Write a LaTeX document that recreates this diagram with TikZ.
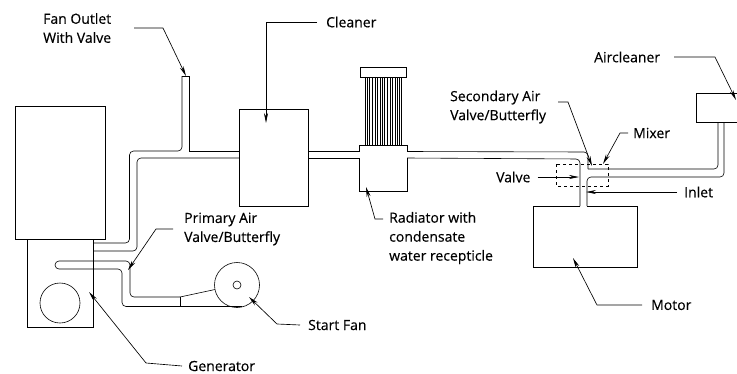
\documentclass[tikz,border=0pt]{standalone}
\usepackage{fontspec}
\setmainfont{Open Sans}[FakeBold=0.35]
\usetikzlibrary{arrows.meta}

\tikzset{
	tag/.style={anchor=west, align=left, inner sep=0pt, font=\fontsize{14}{19}\selectfont},
	leader/.style={line width=0.65pt, -{Stealth[length=10pt, width=4pt]}},
	pipe/.style={semithick, rounded corners=4pt}
}

\begin{document}
\begin{tikzpicture}[x=1pt, y=-1pt]

		\useasboundingbox (0,0) rectangle (737,373);

		\begin{scope}[semithick]
			\draw (15,239) -- (15,106) -- (105,106) -- (105,239) -- cycle; %Engine
			\draw (27,239) -- (27,327) -- (93,327) -- (93,239); %Generator
			\draw (60,303) circle (20pt);
			\draw (239,109) rectangle (308,206); %Cleaner
			\draw (360,67) rectangle (406,77); %Radiator
			\draw (533,206) -- (533,267) -- (637,267) -- (637,206) -- (587,206);
			\draw (580,206) -- (533,206); %Motor
			\draw (737,93) -- (696,93) -- (696,122) -- (737,122); %Aircleaner
		\end{scope}

		\foreach \finx in {365,367,369.5,372,375,377,380,382,384.5,387,390,392,395,397,399,401}
			\draw[thin] (\finx,77) -- (\finx,145);

		%Pipes to the radiator
		\draw[pipe] (93,243) -- (129.5,243) -- (129.5,151) -- (182,151) -- (182,76);
		\draw[pipe] (93,251) -- (137,251) -- (137,158) -- (239,158);
		\draw[semithick] (182,76) -- (189,76) -- (189,151) -- (239,151);
		\draw[semithick] (308,151) -- (359,151) -- (359,145) -- (407,145) -- (407,151);
		\draw[semithick] (308,158) -- (359,158) -- (359,191) -- (407,191) -- (407,158);

		%Pipes to the motor
		\draw[pipe] (407,151.5) -- (588,152) -- (588,169);
		\draw[pipe] (407,158) -- (580,159) -- (580,206);
		\draw[pipe] (588,169) -- (718,169) -- (718,122);
		\draw[pipe] (587,206) -- (587,177) -- (724,177) -- (724,122);

		%Start fan
		\draw[pipe] (180,297) -- (130,297) -- (130,261) -- (55,261) -- (55,269) -- (122,269) -- (122,306.5) -- (242,306.5);
		\draw[semithick] (180,297) -- (215,289.5);
		\draw[semithick] (180,297) -- (180,306.5);
		\draw[semithick] (237,285) circle (22.5pt);
		\draw[semithick] (237,285) circle (4pt);

		\draw[thin, dashed] (556,164) rectangle (608,186);

		\node[tag] (fanoutlet) at (43,28) {Fan Outlet\\With Valve};
		\node[tag] (cleaner) at (326,22) {Cleaner};
		\node[tag] (radiator) at (389,238) {Radiator with\\condensate\\water recepticle};
		\node[tag] (secondary) at (450,107) {Secondary Air\\Valve/Butterfly};
		\node[tag] (aircleaner) at (594,57) {Aircleaner};
		\node[tag] (mixer) at (633,133) {Mixer};
		\node[tag] (valve) at (496,177) {Valve};
		\node[tag] (inlet) at (684,192) {Inlet};
		\node[tag] (motor) at (651,305) {Motor};
		\node[tag] (primary) at (184,229) {Primary Air\\Valve/Butterfly};
		\node[tag] (startfan) at (308,325) {Start Fan};
		\node[tag] (generator) at (188,366) {Generator};

		\draw[leader] (134,28) -- (163,28) -- (186,76);
		\draw[leader] ([xshift=-9pt]cleaner.west) -- (266,22) -- (266,123);
		\draw[leader] (383,219) -- (375,219) -- (366,187);
		\draw[leader] (558,102) -- (568,102) -- (592,166);
		\draw[leader] (674,57) -- (715,57) -- (736,100);
		\draw[leader] ([xshift=-5pt]mixer.west) -- (620,133) -- (603,164);
		\draw[leader] ([xshift=7pt]valve.east) -- (579,177);
		\draw[leader] ([xshift=-7pt]inlet.west) -- (586,192);
		\draw[leader] ([xshift=-9pt]motor.west) -- (597,305) -- (573,258);
		\draw[leader] ([xshift=-11pt]primary.west) -- (156,229) -- (128,270);
		\draw[leader] ([xshift=-8pt]startfan.west) -- (277,324) -- (249,297);
		\draw[leader] ([xshift=-6pt]generator.west) -- (146,363) -- (89,292);

	\end{tikzpicture}
\end{document}
